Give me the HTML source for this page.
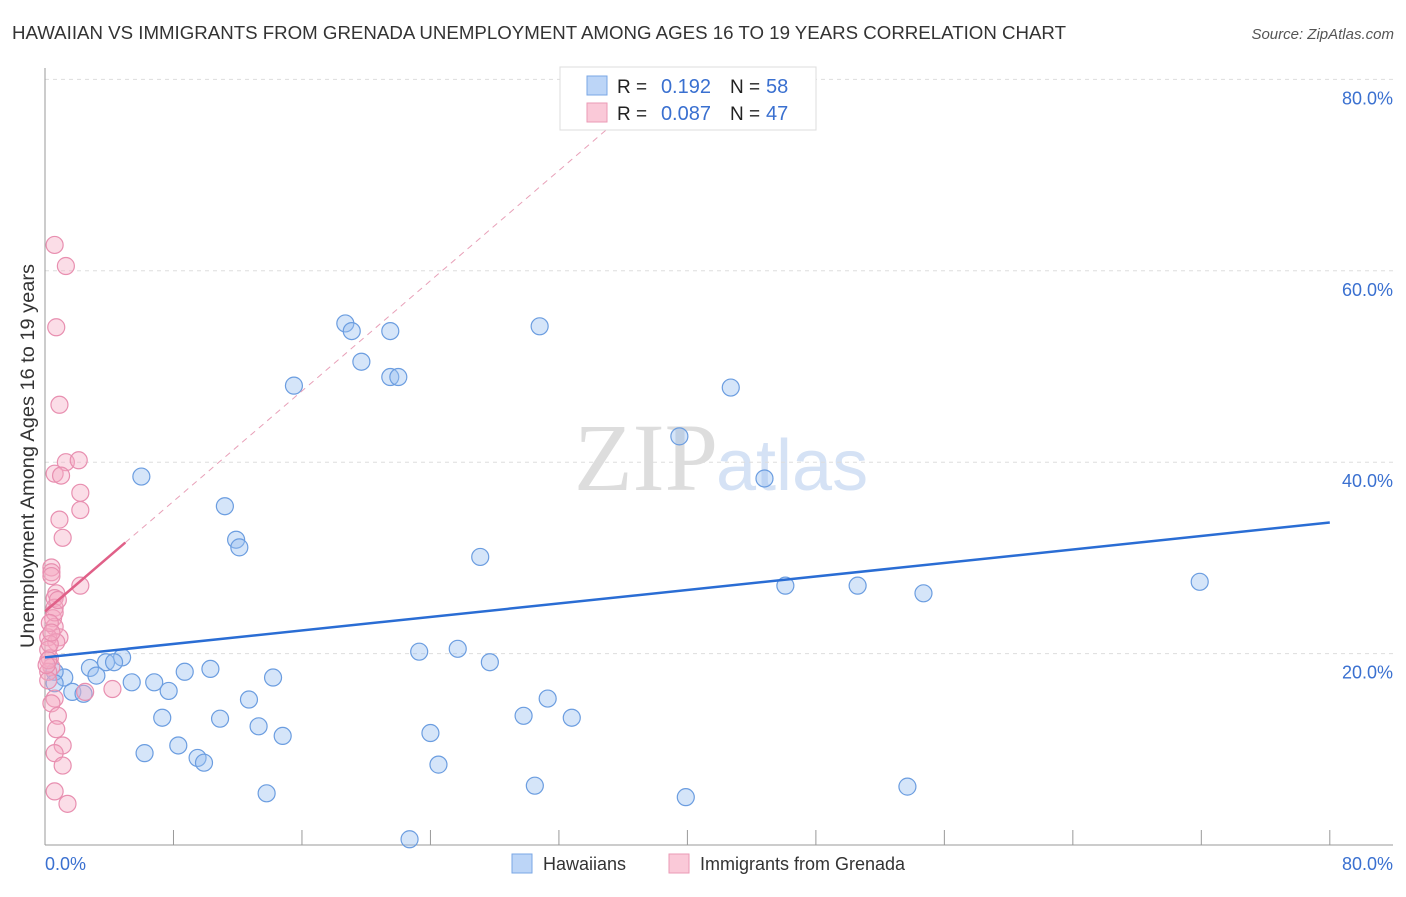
<!DOCTYPE html>
<html><head><meta charset="utf-8"><style>
body{margin:0;background:#fff;font-family:"Liberation Sans",sans-serif}
</style></head><body>
<svg width="1406" height="892" xmlns="http://www.w3.org/2000/svg" style="font-family:'Liberation Sans',sans-serif">
<text x="12" y="39" font-size="18" fill="#333" textLength="1054" lengthAdjust="spacingAndGlyphs">HAWAIIAN VS IMMIGRANTS FROM GRENADA UNEMPLOYMENT AMONG AGES 16 TO 19 YEARS CORRELATION CHART</text>
<text x="1394" y="39" font-size="15" fill="#555" font-style="italic" text-anchor="end">Source: ZipAtlas.com</text>
<text x="718" y="490" font-size="96" fill="#ddd" text-anchor="end" font-family="Liberation Serif">ZIP</text>
<text x="716" y="490" font-size="72" fill="#d5e2f5">atlas</text>
<g id="grid"></g>
<g id="axes"></g>
<g id="pts"></g>
<g id="trends"></g>
<text x="34" y="456" font-size="19" fill="#333" text-anchor="middle" textLength="384" lengthAdjust="spacingAndGlyphs" transform="rotate(-90 34 456)">Unemployment Among Ages 16 to 19 years</text>
<text x="45" y="870" font-size="18" fill="#3a70d0">0.0%</text>
<text x="1393" y="870" font-size="18" fill="#3a70d0" text-anchor="end">80.0%</text>
<g>
<rect x="560" y="67" width="256" height="63" fill="#fff" stroke="#ddd"/>
<rect x="587" y="76" width="20" height="19" fill="#bcd5f7" stroke="#7aa7e6"/>
<rect x="587" y="103" width="20" height="19" fill="#fac9d8" stroke="#eb9ab6"/>
<text x="617" y="93" font-size="19" fill="#222">R =</text>
<text x="711" y="93" font-size="20" fill="#3a70d0" text-anchor="end">0.192</text>
<text x="730" y="93" font-size="19" fill="#222">N =</text>
<text x="766" y="93" font-size="20" fill="#3a70d0">58</text>
<text x="617" y="120" font-size="19" fill="#222">R =</text>
<text x="711" y="120" font-size="20" fill="#3a70d0" text-anchor="end">0.087</text>
<text x="730" y="120" font-size="19" fill="#222">N =</text>
<text x="766" y="120" font-size="20" fill="#3a70d0">47</text>
</g>
<g>
<rect x="512" y="854" width="20" height="19" fill="#bcd5f7" stroke="#7aa7e6"/>
<text x="543" y="870" font-size="18" fill="#333">Hawaiians</text>
<rect x="669" y="854" width="20" height="19" fill="#fac9d8" stroke="#eb9ab6"/>
<text x="700" y="870" font-size="18" fill="#333">Immigrants from Grenada</text>
</g>
</svg>
<script>
const yTicks=[20,40,60,80];
const yTickLabels=["20.0%","40.0%","60.0%","80.0%"];
const blueX=[15.5,18.7,19.1,21.5,19.7,21.5,22.0,30.8,42.7,39.5,44.8,6.0,11.2,11.9,12.1,27.1,46.1,50.6,54.7,71.9,23.3,25.7,27.7,4.8,3.8,4.3,2.8,3.2,1.2,0.6,0.6,1.7,2.4,5.4,6.8,7.7,8.7,10.3,12.7,14.2,7.3,10.9,13.3,14.8,31.3,29.8,32.8,8.3,6.2,9.5,9.9,24.0,24.5,13.8,30.5,39.9,53.7,22.7];
const blueY=[48.0,54.5,53.7,53.7,50.5,48.9,48.9,54.2,47.8,42.7,38.3,38.5,35.4,31.9,31.1,30.1,27.1,27.1,26.3,27.5,20.2,20.5,19.1,19.6,19.1,19.1,18.5,17.7,17.5,18.1,16.9,16.0,15.8,17.0,17.0,16.1,18.1,18.4,15.2,17.5,13.3,13.2,12.4,11.4,15.3,13.5,13.3,10.4,9.6,9.1,8.6,11.7,8.4,5.4,6.2,5.0,6.1,0.6];
const pinkX=[0.6,1.3,0.7,0.9,1.3,2.1,0.6,1.0,2.2,2.2,0.9,1.1,0.4,0.4,0.4,2.2,0.7,0.6,0.6,0.5,0.6,0.9,0.2,0.7,0.2,0.3,0.4,0.2,4.2,2.5,0.6,0.4,0.8,0.7,1.1,0.6,1.1,0.6,1.4,0.3,0.2,0.2,0.6,0.8,0.3,0.4,0.1];
const pinkY=[62.7,60.5,54.1,46.0,40.0,40.2,38.8,38.6,36.8,35.0,34.0,32.1,29.0,28.5,28.1,27.1,26.3,25.8,24.8,23.7,22.8,21.7,21.7,21.2,20.4,19.5,18.6,18.1,16.3,16.0,15.3,14.8,13.5,12.1,10.4,9.6,8.3,5.6,4.3,21.0,19.3,17.2,24.3,25.6,23.2,22.2,18.8];
const blueTrend=[0,19.6,80,33.7];
const pinkTrend=[0,24.4,5,31.6];
const NS="http://www.w3.org/2000/svg";
const X=v=>45+v*16.06, Y=v=>845-v*9.57;
function mk(t,a,p){const e=document.createElementNS(NS,t);for(const k in a)e.setAttribute(k,a[k]);p.appendChild(e);return e;}
const g=document.getElementById('grid'),ax=document.getElementById('axes'),pts=document.getElementById('pts'),tr=document.getElementById('trends');
yTicks.forEach((v,i)=>{
 const l=mk('line',{x1:45,x2:1393,y1:Y(v),y2:Y(v),stroke:'#ddd','stroke-dasharray':'4,4'},g);
 
 
 const t=mk('text',{x:1393,y:Y(v)+25,'font-size':18,fill:'#3a70d0','text-anchor':'end'},g);
 t.textContent=yTickLabels[i];
 
 
});
const la=mk('line',{x1:45,x2:45,y1:68,y2:845,stroke:'#999'},ax);


const lb=mk('line',{x1:45,x2:1393,y1:845,y2:845,stroke:'#999'},ax);


for(let v=0;v<=80;v+=8){const tk=mk('line',{x1:X(v),x2:X(v),y1:830,y2:845,stroke:'#999'},ax);
 
 }
blueX.forEach((v,i)=>{const c=mk('circle',{cx:X(v),cy:Y(blueY[i]),r:8.5,fill:'rgba(150,190,240,0.4)',stroke:'#6b9de0','stroke-width':1.2},pts);
 
 });
pinkX.forEach((v,i)=>{const c=mk('circle',{cx:X(v),cy:Y(pinkY[i]),r:8.5,fill:'rgba(245,170,195,0.4)',stroke:'#e88fb0','stroke-width':1.2},pts);
 
 });
const bt=mk('line',{x1:X(blueTrend[0]),y1:Y(blueTrend[1]),x2:X(blueTrend[2]),y2:Y(blueTrend[3]),stroke:'#2a6dd4','stroke-width':2.5},tr);


const slope=(pinkTrend[3]-pinkTrend[1])/(pinkTrend[2]-pinkTrend[0]);
const xe=(80-pinkTrend[1])/slope;
const pd=mk('line',{x1:X(pinkTrend[2]),y1:Y(pinkTrend[3]),x2:X(xe),y2:Y(80),stroke:'#e8a0b8','stroke-width':1,'stroke-dasharray':'6,5'},tr);


const pt=mk('line',{x1:X(pinkTrend[0]),y1:Y(pinkTrend[1]),x2:X(pinkTrend[2]),y2:Y(pinkTrend[3]),stroke:'#e06088','stroke-width':2.5},tr);


</script>
</body></html>
